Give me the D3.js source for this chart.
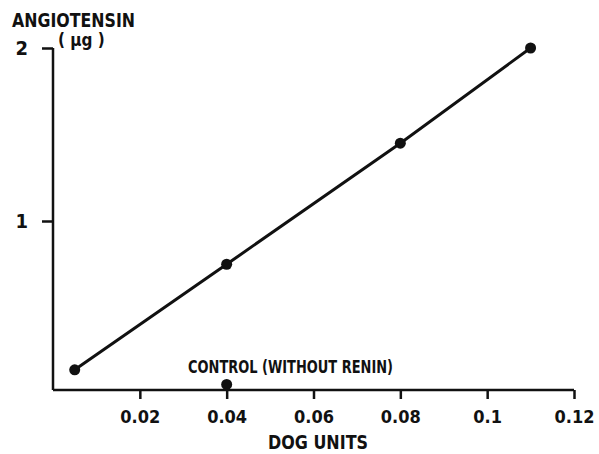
<!DOCTYPE html>
<html>
<head>
<meta charset="utf-8">
<script src="https://cdn.jsdelivr.net/npm/d3@7"></script>
<style>
  body { margin: 0; background: #fff; }
  text { font-family: "Liberation Sans Narrow", "DejaVu Sans Condensed", sans-serif; font-weight: bold; fill: #111; }
</style>
</head>
<body>
<div id="graph"></div>
<script>
// dose (dog units) vs angiotensin formed (µg)
let doseUnits = [0.005, 0.04, 0.08, 0.11];
let angiotensin = [0.14, 0.75, 1.45, 2.0];
let control = [{x: 0.04, y: 0.055}];
let xTicks = [0.02, 0.04, 0.06, 0.08, 0.1, 0.12];
let xTickLabels = ["0.02", "0.04", "0.06", "0.08", "0.1", "0.12"];
let yTicks = [1, 2];

let width = 599, height = 454;
let svg = d3.select("#graph").append("svg")
    .attr("width", width)
    .attr("height", height);

let x_scale = d3.scaleLinear().domain([0, 0.12]).range([53, 574]);
let y_scale = d3.scaleLinear().domain([0, 2]).range([394, 48]);
let axisY = 390;

let data = doseUnits.map((d, i) => ({x: d, y: angiotensin[i]}));

// x axis
let xAxis = d3.axisBottom(x_scale)
    .tickValues(xTicks)
    .tickFormat((d, i) => xTickLabels[i])
    .tickSizeInner(9)
    .tickSizeOuter(0)
    .tickPadding(11);
let gx = svg.append("g").attr("transform", `translate(0,${axisY})`).call(xAxis);
gx.select(".domain").attr("d", `M${x_scale(0)},0H${x_scale(0.12)}`).attr("stroke", "#111").attr("stroke-width", 2.5);
gx.selectAll(".tick line").attr("stroke", "#111").attr("stroke-width", 2.5);
gx.selectAll(".tick text").attr("font-size", 18).attr("fill", "#111")
    .style("font-family", "'Liberation Sans Narrow', 'DejaVu Sans Condensed', sans-serif")
    .style("font-weight", "bold");

// y axis
let yAxis = d3.axisLeft(y_scale)
    .tickValues(yTicks)
    .tickSizeInner(11)
    .tickSizeOuter(0)
    .tickPadding(14)
    .tickFormat(d3.format("d"));
let gy = svg.append("g").attr("transform", `translate(${x_scale(0)},0)`).call(yAxis);
gy.select(".domain").attr("d", `M0,${y_scale(2)}V${axisY}`).attr("stroke", "#111").attr("stroke-width", 2.5);
gy.selectAll(".tick line").attr("stroke", "#111").attr("stroke-width", 2.5);
gy.selectAll(".tick text").attr("font-size", 20).attr("fill", "#111")
    .style("font-family", "'Liberation Sans Narrow', 'DejaVu Sans Condensed', sans-serif")
    .style("font-weight", "bold");

// the line
let valueLine = d3.line().x(d => x_scale(d.x)).y(d => y_scale(d.y));
svg.append("path")
    .datum(data)
    .attr("d", valueLine)
    .attr("fill", "none")
    .attr("stroke", "#111")
    .attr("stroke-width", 3);

svg.selectAll("circle.pt")
    .data(data.concat(control))
    .enter().append("circle")
    .attr("class", "pt")
    .attr("cx", d => x_scale(d.x))
    .attr("cy", d => y_scale(d.y))
    .attr("r", 5.5)
    .attr("fill", "#111");

// labels
svg.append("text").attr("x", 12).attr("y", 27).attr("font-size", 19)
    .attr("textLength", 123).attr("lengthAdjust", "spacingAndGlyphs")
    .text("ANGIOTENSIN");
svg.append("text").attr("x", 58).attr("y", 46).attr("font-size", 17)
    .text("( µg )");
svg.append("text").attr("x", 188).attr("y", 373).attr("font-size", 17)
    .attr("textLength", 205).attr("lengthAdjust", "spacingAndGlyphs")
    .text("CONTROL (WITHOUT RENIN)");
svg.append("text").attr("x", 268).attr("y", 449).attr("font-size", 20)
    .attr("textLength", 100).attr("lengthAdjust", "spacingAndGlyphs")
    .text("DOG UNITS");
</script>
</body>
</html>
